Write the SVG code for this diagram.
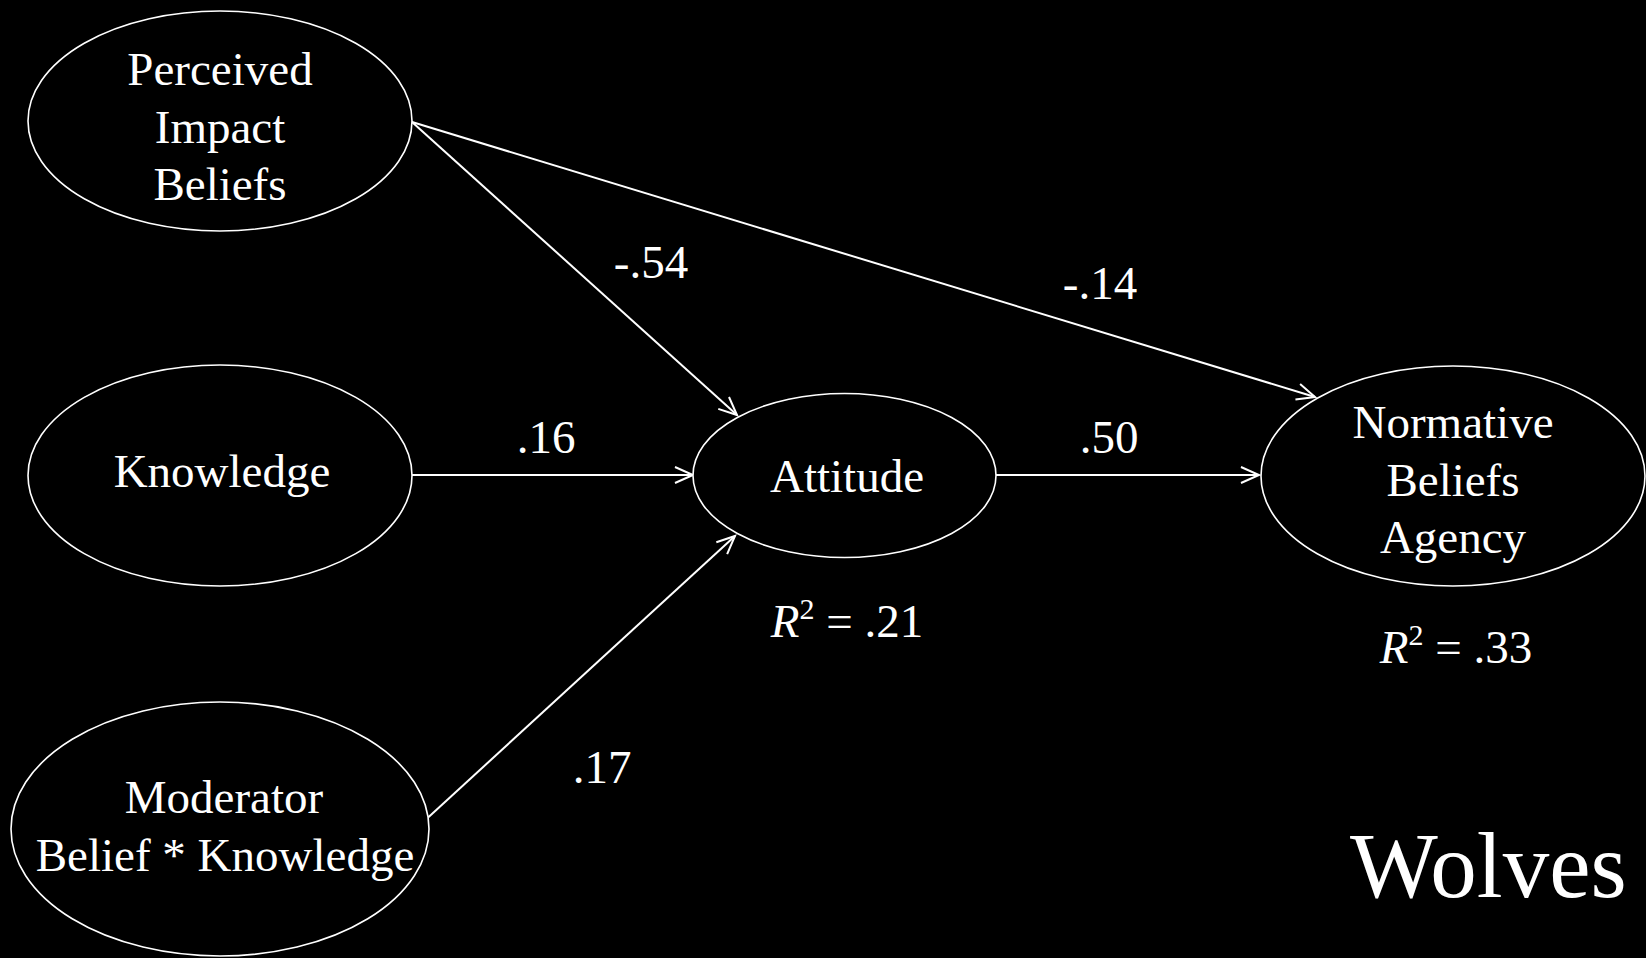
<svg xmlns="http://www.w3.org/2000/svg" width="1646" height="958" viewBox="0 0 1646 958">
<style>
.node ellipse{fill:#000;stroke:#fff;stroke-width:1.6}
text{font-family:"Liberation Serif","Times New Roman",serif;fill:#fff;font-size:47px;text-anchor:middle}
.edge{stroke:#fff;stroke-width:2;fill:none;marker-end:url(#arr)}
</style>
<defs>
<marker id="arr" markerUnits="userSpaceOnUse" markerWidth="24" markerHeight="24" refX="20" refY="10" viewBox="0 0 24 20" orient="auto">
<path d="M2,2 L20,10 L2,18" fill="none" stroke="#fff" stroke-width="2"/>
</marker>
</defs>
<rect width="1646" height="958" fill="#000"/>
<g id="connectors">
<line class="edge" x1="412" y1="122" x2="737" y2="415"/>
<line class="edge" x1="412" y1="122" x2="1315" y2="397"/>
<line class="edge" x1="412" y1="475" x2="693" y2="475"/>
<line class="edge" x1="996" y1="475" x2="1259" y2="475"/>
<line class="edge" x1="421" y1="824" x2="735" y2="536"/>
<text x="651" y="278">-.54</text>
<text x="1100" y="299">-.14</text>
<text x="546" y="453">.16</text>
<text x="1109" y="453">.50</text>
<text x="602" y="783">.17</text>
</g>
<g id="perceived" class="node">
<ellipse cx="220" cy="121" rx="192" ry="110"/>
<text x="220" y="85">Perceived</text>
<text x="220" y="143">Impact</text>
<text x="220" y="200">Beliefs</text>
</g>
<g id="knowledge" class="node">
<ellipse cx="220" cy="475.5" rx="192" ry="110.5"/>
<text x="222" y="487">Knowledge</text>
</g>
<g id="moderator" class="node">
<ellipse cx="220" cy="829" rx="209" ry="127"/>
<text x="224" y="813">Moderator</text>
<text x="225" y="871">Belief * Knowledge</text>
</g>
<g id="attitude" class="node">
<ellipse cx="844.5" cy="475.5" rx="151.5" ry="82"/>
<text x="847" y="492">Attitude</text>
<text x="847" y="637"><tspan font-style="italic">R</tspan><tspan font-size="30" dy="-18">2</tspan><tspan dy="18"> = .21</tspan></text>
</g>
<g id="normative" class="node">
<ellipse cx="1453" cy="476" rx="192" ry="110"/>
<text x="1453" y="438">Normative</text>
<text x="1453" y="496">Beliefs</text>
<text x="1453" y="553">Agency</text>
<text x="1456" y="663"><tspan font-style="italic">R</tspan><tspan font-size="30" dy="-18">2</tspan><tspan dy="18"> = .33</tspan></text>
</g>
<text x="1350" y="897" style="text-anchor:start;font-size:93px">Wolves</text>
</svg>
